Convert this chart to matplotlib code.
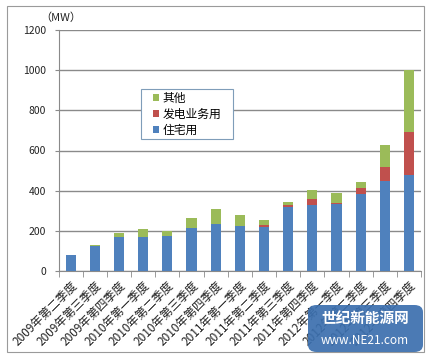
import numpy as np
import matplotlib
matplotlib.use("Agg")
import matplotlib.pyplot as plt
from matplotlib.patches import FancyBboxPatch, Rectangle

plt.rcParams['font.family'] = ['Noto Sans CJK SC', 'DejaVu Sans']

# quarters
quarters = [
    "2009年第二季度", "2009年第三季度", "2009年第四季度",
    "2010年第一季度", "2010年第二季度", "2010年第三季度", "2010年第四季度",
    "2011年第一季度", "2011年第二季度", "2011年第三季度", "2011年第四季度",
    "2012年第一季度", "2012年第二季度", "2012年第三季度", "2012年第四季度",
]

# MW per segment
residential = [78, 125, 167, 167, 174, 212, 235, 225, 220, 320, 330, 335, 385, 446, 476]
power_biz   = [0, 0, 0, 0, 0, 0, 0, 0, 10, 7, 27, 6, 28, 74, 217]
other       = [0, 6, 20, 41, 23, 53, 73, 53, 23, 19, 47, 48, 30, 105, 307]

series_names = ["住宅用", "发电业务用", "其他"]
colors = ["#4F81BD", "#C0504D", "#9BBB59"]

W, H = 430, 359
fig = plt.figure(figsize=(4.3, 3.59), dpi=100)
ax = fig.add_axes([58.7 / W, 1 - 271 / H, (421 - 58.7) / W, (271 - 30) / H])

x = np.arange(len(quarters))
w = 0.42
b1 = ax.bar(x, residential, w, color=colors[0], label=series_names[0], zorder=3)
b2 = ax.bar(x, power_biz, w, bottom=residential, color=colors[1], label=series_names[1], zorder=3)
bottom2 = np.array(residential) + np.array(power_biz)
b3 = ax.bar(x, other, w, bottom=bottom2, color=colors[2], label=series_names[2], zorder=3)

ax.set_xlim(-0.5, len(quarters) - 0.5)
ax.set_ylim(0, 1200)
ax.set_yticks(np.arange(0, 1201, 200))
ax.yaxis.grid(True, color="#8a8a8a", linewidth=1.0, zorder=0)
ax.tick_params(axis="y", labelsize=7.5, length=3, color="#8a8a8a", pad=6, labelcolor="#222222")

ax.set_xticks(x)
ax.set_xticklabels(quarters, rotation=45, ha="right", rotation_mode="anchor", fontsize=8.5)
ax.tick_params(axis="x", which="major", length=0, pad=6, labelcolor="#222222")
ax.set_xticks(np.arange(-0.5, len(quarters)), minor=True)
ax.tick_params(axis="x", which="minor", length=4, color="#8a8a8a")

for s in ["top", "right"]:
    ax.spines[s].set_visible(False)
for s in ["left", "bottom"]:
    ax.spines[s].set_color("#8a8a8a")

fig.text(40 / W, 1 - 18 / H, "（MW）", fontsize=8, va="center", ha="left", color="#222222")

# legend box drawn separately so it can be wider than its text
box = Rectangle((140.7 / W, 1 - 139 / H), 92 / W, 50 / H, transform=fig.transFigure,
                facecolor="white", edgecolor="#7f9db9", linewidth=0.8, zorder=4, clip_on=False)
ax.add_patch(box)
leg = ax.legend([b3, b2, b1], ["其他", "发电业务用", "住宅用"],
                loc="upper left", bbox_to_anchor=((153 - 58.7) / (421 - 58.7), (271 - 92) / (271 - 30)),
                borderaxespad=0, fontsize=8.5, frameon=False,
                handlelength=0.55, handleheight=0.55, handletextpad=0.25,
                borderpad=0, labelspacing=0.25)
leg.set_zorder(5)

# outer border of the picture
fig.patches.append(Rectangle((7 / W, 1 - 352 / H), 417 / W, 346 / H,
                             transform=fig.transFigure, fill=False, edgecolor="#9a9a9a", linewidth=0.8))

# site watermark badge
fig.patches.append(FancyBboxPatch((308 / W, 1 - 352 / H), 115 / W, 47 / H,
                                  boxstyle="round,pad=0,rounding_size=0.02",
                                  transform=fig.transFigure, facecolor="#3b6fae", edgecolor="none",
                                  alpha=0.92, zorder=5))
fig.text(365 / W, 1 - 318 / H, "世纪新能源网", fontsize=10.5, color="white",
         ha="center", va="center", fontweight="bold", zorder=6)
fig.text(365 / W, 1 - 340 / H, "www.NE21.com", fontsize=8.5, color="white",
         ha="center", va="center", zorder=6)

fig.savefig("out.png", dpi=100)
